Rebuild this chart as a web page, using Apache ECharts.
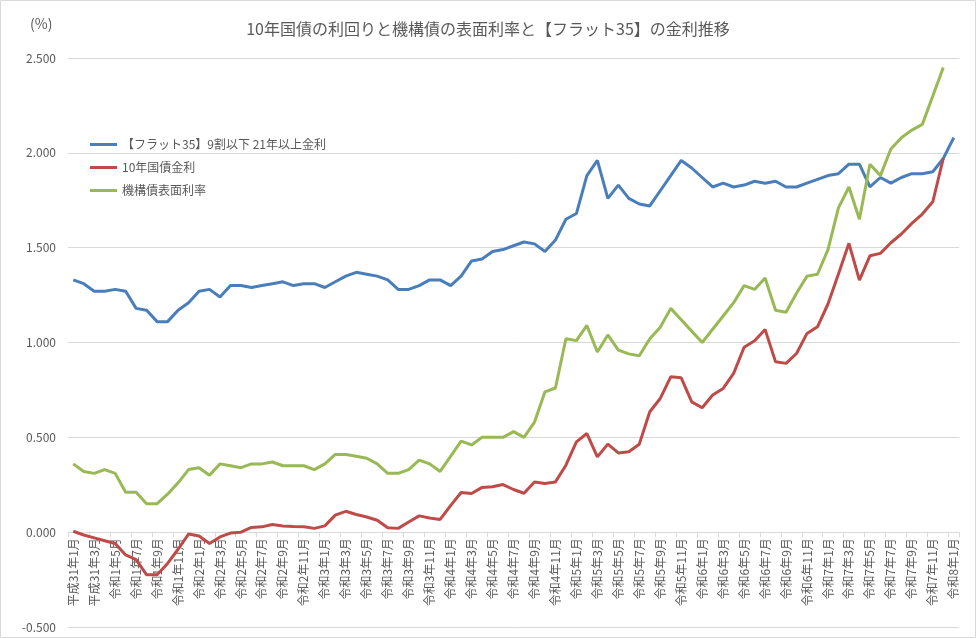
<!DOCTYPE html>
<html>
<head>
<meta charset="utf-8">
<script src="https://cdn.jsdelivr.net/npm/echarts@6/dist/echarts.min.js"></script>
<style>
html,body{margin:0;padding:0;background:#fff;}
#chart{width:976px;height:638px;}
</style>
</head>
<body>
<div id="chart"></div>
<script>
var categories = [
"平成31年1月","平成31年2月","平成31年3月","平成31年4月","令和1年5月","令和1年6月","令和1年7月","令和1年8月","令和1年9月","令和1年10月","令和1年11月","令和1年12月",
"令和2年1月","令和2年2月","令和2年3月","令和2年4月","令和2年5月","令和2年6月","令和2年7月","令和2年8月","令和2年9月","令和2年10月","令和2年11月","令和2年12月",
"令和3年1月","令和3年2月","令和3年3月","令和3年4月","令和3年5月","令和3年6月","令和3年7月","令和3年8月","令和3年9月","令和3年10月","令和3年11月","令和3年12月",
"令和4年1月","令和4年2月","令和4年3月","令和4年4月","令和4年5月","令和4年6月","令和4年7月","令和4年8月","令和4年9月","令和4年10月","令和4年11月","令和4年12月",
"令和5年1月","令和5年2月","令和5年3月","令和5年4月","令和5年5月","令和5年6月","令和5年7月","令和5年8月","令和5年9月","令和5年10月","令和5年11月","令和5年12月",
"令和6年1月","令和6年2月","令和6年3月","令和6年4月","令和6年5月","令和6年6月","令和6年7月","令和6年8月","令和6年9月","令和6年10月","令和6年11月","令和6年12月",
"令和7年1月","令和7年2月","令和7年3月","令和7年4月","令和7年5月","令和7年6月","令和7年7月","令和7年8月","令和7年9月","令和7年10月","令和7年11月","令和7年12月",
"令和8年1月"
];

var flat35 = [
1.33,1.31,1.27,1.27,1.28,1.27,1.18,1.17,1.11,1.11,1.17,1.21,
1.27,1.28,1.24,1.30,1.30,1.29,1.30,1.31,1.32,1.30,1.31,1.31,
1.29,1.32,1.35,1.37,1.36,1.35,1.33,1.28,1.28,1.30,1.33,1.33,
1.30,1.35,1.43,1.44,1.48,1.49,1.51,1.53,1.52,1.48,1.54,1.65,
1.68,1.88,1.96,1.76,1.83,1.76,1.73,1.72,1.80,1.88,1.96,1.92,
1.87,1.82,1.84,1.82,1.83,1.85,1.84,1.85,1.82,1.82,1.84,1.86,
1.88,1.89,1.94,1.94,1.82,1.87,1.84,1.87,1.89,1.89,1.90,1.97,
2.08
];

var jgb10 = [
0.005,-0.015,-0.030,-0.045,-0.060,-0.120,-0.145,-0.225,-0.225,-0.165,-0.090,-0.010,
-0.020,-0.060,-0.025,-0.005,0.000,0.025,0.028,0.040,0.033,0.030,0.028,0.020,
0.033,0.090,0.110,0.093,0.080,0.063,0.023,0.020,0.054,0.086,0.075,0.067,
0.140,0.209,0.204,0.236,0.239,0.251,0.225,0.205,0.265,0.257,0.265,0.353,
0.476,0.520,0.397,0.464,0.418,0.424,0.464,0.635,0.705,0.819,0.814,0.687,
0.656,0.723,0.758,0.837,0.975,1.009,1.069,0.898,0.890,0.942,1.048,1.083,
1.203,1.361,1.523,1.329,1.457,1.470,1.526,1.572,1.628,1.677,1.742,1.971,
null
];

var mbsCoupon = [
0.36,0.32,0.31,0.33,0.31,0.21,0.21,0.15,0.15,0.20,0.26,0.33,
0.34,0.30,0.36,0.35,0.34,0.36,0.36,0.37,0.35,0.35,0.35,0.33,
0.36,0.41,0.41,0.40,0.39,0.36,0.31,0.31,0.33,0.38,0.36,0.32,
0.40,0.48,0.46,0.50,0.50,0.50,0.53,0.50,0.58,0.74,0.76,1.02,
1.01,1.09,0.95,1.04,0.96,0.94,0.93,1.02,1.08,1.18,1.12,1.06,
1.00,1.07,1.14,1.21,1.30,1.28,1.34,1.17,1.16,1.26,1.35,1.36,
1.49,1.71,1.82,1.65,1.94,1.88,2.02,2.08,2.12,2.15,2.30,2.45,
null
];

var seriesNames = ["【フラット35】9割以下 21年以上金利","10年国債金利","機構債表面利率"];
var yTicks = {min:-0.5, max:2.5, interval:0.5};

var FONT = '"Noto Sans CJK JP", "Noto Sans", sans-serif';
var TXT = '#595959';

var GRID_TOP = 58, GRID_BOTTOM = 11, H = 638;
var plotH = H - GRID_TOP - GRID_BOTTOM;
// distance from the bottom of the plot (min) up to the zero line, in pixels
var zeroOffset = plotH * (0 - yTicks.min) / (yTicks.max - yTicks.min);

var chart = echarts.init(document.getElementById('chart'), null, {renderer:'canvas'});
chart.setOption({
  animation: false,
  backgroundColor: '#ffffff',
  textStyle: {fontFamily: FONT, color: TXT},
  title: [
    {text: '10年国債の利回りと機構債の表面利率と【フラット35】の金利推移', left: 'center', top: 16,
     textStyle: {fontFamily: FONT, fontSize: 16, fontWeight: 'normal', color: TXT}},
    {text: '(%)', left: 25, top: 12,
     textStyle: {fontFamily: FONT, fontSize: 14, fontWeight: 'normal', color: TXT}}
  ],
  graphic: [{
    type: 'rect', shape: {x: 0.5, y: 0.5, width: 975, height: 637},
    style: {fill: 'none', stroke: '#D9D9D9', lineWidth: 1}, silent: true, z: -1
  }],
  legend: {
    orient: 'vertical', left: 85, top: 131, icon: 'rect', itemWidth: 27, itemHeight: 3, itemGap: 6,
    textStyle: {fontFamily: FONT, fontSize: 12, color: TXT, lineHeight: 17},
    data: seriesNames
  },
  grid: {left: 68, right: 17, top: GRID_TOP, bottom: GRID_BOTTOM, containLabel: false, outerBoundsMode: 'none'},
  xAxis: {
    type: 'category', data: categories, boundaryGap: true, position: 'bottom', z: 0,
    offset: -zeroOffset,
    axisLine: {onZero: false, lineStyle: {color: '#D9D9D9', width: 1}},
    axisTick: {show: true, interval: 1, length: 5, lineStyle: {color: '#D9D9D9'}},
    axisLabel: {interval: 1, rotate: 90, fontSize: 12, color: TXT, margin: 6, fontFamily: FONT},
    splitLine: {show: false}
  },
  yAxis: {
    type: 'value', min: yTicks.min, max: yTicks.max, interval: yTicks.interval, z: 0,
    axisLine: {show: false}, axisTick: {show: false},
    axisLabel: {formatter: function(v){return v.toFixed(3);}, fontSize: 12, color: TXT, margin: 12, fontFamily: FONT},
    splitLine: {lineStyle: {color: '#D9D9D9', width: 1}}
  },
  series: [
    {name: seriesNames[0], type: 'line', z: 10, data: flat35, symbol: 'none', lineStyle: {color: '#4A7EBB', width: 3}, itemStyle: {color: '#4A7EBB'}},
    {name: seriesNames[1], type: 'line', z: 11, data: jgb10, symbol: 'none', lineStyle: {color: '#BE4B48', width: 3}, itemStyle: {color: '#BE4B48'}},
    {name: seriesNames[2], type: 'line', z: 12, data: mbsCoupon, symbol: 'none', lineStyle: {color: '#98B954', width: 3}, itemStyle: {color: '#98B954'}}
  ]
});
</script>
</body>
</html>
